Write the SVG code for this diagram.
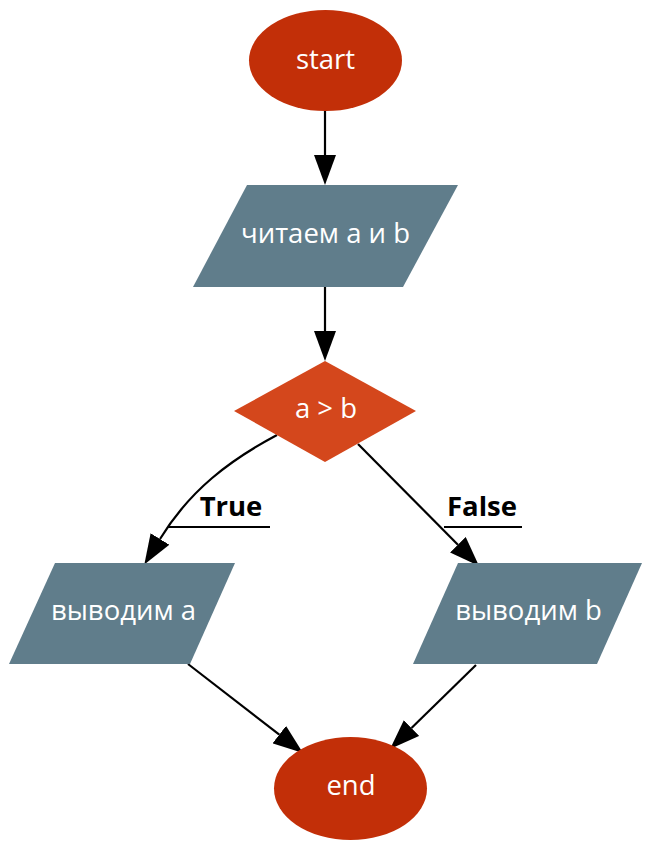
<svg xmlns="http://www.w3.org/2000/svg" width="667" height="864" viewBox="0 0 667 864">
<defs>
<style>
.term{fill:#C22F08}
.io{fill:#607D8B}
.dec{fill:#D4471C}
.t{font-family:"Open Sans","Noto Sans",sans-serif;font-size:27.5px;fill:#FFFFFF;text-anchor:middle}
.lbl{font-family:"Open Sans","Noto Sans",sans-serif;font-size:27.5px;font-weight:bold;fill:#000000;text-anchor:middle}
.e{fill:none;stroke:#000000;stroke-width:2.2}
.u{stroke:#000000;stroke-width:2}
</style>
<marker id="ah" markerUnits="userSpaceOnUse" viewBox="0 0 30 22" markerWidth="30" markerHeight="22" refX="0" refY="11" orient="auto">
<path d="M0,0 L30,11 L0,22 Z" fill="#000000"/>
</marker>
</defs>
<rect width="667" height="864" fill="#FFFFFF"/>
<g id="connectors">
<path class="e" d="M325,111 L325,155" marker-end="url(#ah)"/>
<path class="e" d="M325,287 L325,331" marker-end="url(#ah)"/>
<path class="e" d="M277,435 C230,460 190,490 160,539" marker-end="url(#ah)"/>
<path class="e" d="M358,444 L457.9,544.7" marker-end="url(#ah)"/>
<path class="e" d="M188,664 L279.3,734.6" marker-end="url(#ah)"/>
<path class="e" d="M476,665 L411.5,728" marker-end="url(#ah)"/>
<g id="label-true">
<text class="lbl" x="231" y="516">True</text>
<line class="u" x1="168" y1="527" x2="270" y2="527"/>
</g>
<g id="label-false">
<text class="lbl" x="482" y="516">False</text>
<line class="u" x1="444" y1="527" x2="522" y2="527"/>
</g>
</g>
<g id="start">
<ellipse class="term" cx="325.5" cy="60.5" rx="76.5" ry="50.5"/>
<text class="t" x="325.5" y="68.5">start</text>
</g>
<g id="read">
<polygon class="io" points="247,185 458,185 403,287 193,287"/>
<text class="t" x="325.5" y="243">читаем a и b</text>
</g>
<g id="cond">
<polygon class="dec" points="325,361 416,411 325,462 234,411"/>
<text class="t" x="326" y="418">a &gt; b</text>
</g>
<g id="outa">
<polygon class="io" points="55,563 235,563 190,664 9,664"/>
<text class="t" x="123.5" y="620">выводим a</text>
</g>
<g id="outb">
<polygon class="io" points="458,563 642,563 597,664 413,664"/>
<text class="t" x="528.5" y="620">выводим b</text>
</g>
<g id="end">
<ellipse class="term" cx="350.5" cy="788.5" rx="76.5" ry="51.5"/>
<text class="t" x="351" y="795">end</text>
</g>
</svg>
